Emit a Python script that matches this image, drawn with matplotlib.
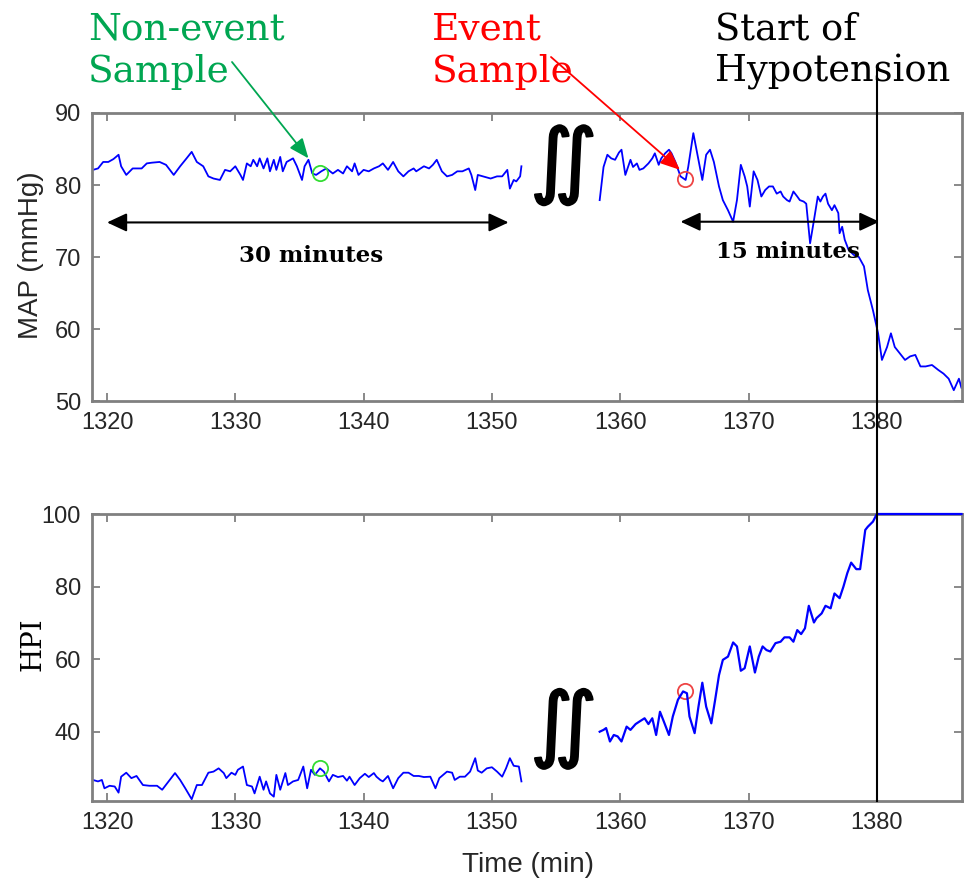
import numpy as np
import matplotlib
matplotlib.use("Agg")
import matplotlib.pyplot as plt
import matplotlib.patheffects as pe
from matplotlib.lines import Line2D

# --- data ------------------------------------------------------------------
# MAP, first segment (non-event window)
t_map1 = [1318.9, 1319.3, 1319.7, 1320.1, 1320.5, 1320.9, 1321.1, 1321.5, 1322.0, 1322.7,
          1323.1, 1323.5, 1324.1, 1324.6, 1325.2, 1325.7, 1326.2, 1326.6, 1327.0, 1327.5,
          1327.9, 1328.3, 1328.8, 1329.2, 1329.6, 1330.0, 1330.4, 1330.6, 1330.9, 1331.2,
          1331.4, 1331.7, 1331.9, 1332.2, 1332.5, 1332.7, 1333.0, 1333.2, 1333.5, 1333.7,
          1334.0, 1334.5, 1334.8, 1335.2, 1335.4, 1335.7, 1336.0, 1336.3, 1336.7, 1337.1,
          1337.6, 1338.0, 1338.4, 1338.7, 1339.1, 1339.3, 1339.6, 1340.0, 1340.4, 1340.8,
          1341.2, 1341.5, 1341.9, 1342.3, 1342.7, 1343.1, 1343.5, 1343.9, 1344.1, 1344.7,
          1345.1, 1345.4, 1345.7, 1346.1, 1346.5, 1346.9, 1347.3, 1347.7, 1348.2, 1348.4,
          1348.7, 1348.9, 1349.3, 1349.9, 1350.4, 1350.8, 1351.2, 1351.4, 1351.7, 1351.9,
          1352.2, 1352.3]
map1 = [82.1, 82.3, 83.2, 83.2, 83.6, 84.2, 82.6, 81.4, 82.3, 82.3,
        83.0, 83.1, 83.2, 82.8, 81.4, 82.6, 83.7, 84.6, 83.2, 82.6,
        81.2, 80.9, 80.7, 82.1, 81.9, 82.6, 81.4, 80.7, 83.0, 82.6,
        83.5, 82.6, 83.7, 82.3, 83.7, 81.9, 83.5, 82.1, 83.9, 81.9,
        83.2, 83.7, 82.6, 80.7, 82.6, 83.5, 81.6, 81.4, 81.9, 82.3,
        81.6, 82.1, 81.6, 82.6, 81.9, 83.0, 81.4, 82.1, 81.9, 82.3,
        82.6, 83.0, 82.1, 83.2, 81.9, 81.2, 81.9, 82.3, 81.9, 82.6,
        82.3, 82.8, 83.5, 81.9, 81.2, 81.4, 81.9, 81.9, 82.3, 81.4,
        79.3, 81.4, 81.2, 80.9, 81.2, 81.2, 82.1, 79.5, 80.7, 80.5,
        81.2, 82.6]

# MAP, second segment (leading into hypotension)
t_map2 = [1358.4, 1358.7, 1359.0, 1359.3, 1359.6, 1359.9, 1360.1, 1360.4, 1360.8, 1361.0,
          1361.3, 1361.5, 1361.8, 1362.2, 1362.5, 1362.7, 1363.0, 1363.2, 1363.5, 1363.8,
          1364.0, 1364.3, 1364.7, 1365.1, 1365.3, 1365.7, 1366.0, 1366.4, 1366.7, 1367.0,
          1367.3, 1367.7, 1368.0, 1368.4, 1368.8, 1369.1, 1369.4, 1369.7, 1369.9, 1370.1,
          1370.4, 1370.7, 1371.0, 1371.3, 1371.6, 1371.9, 1372.2, 1372.5, 1372.7, 1373.0,
          1373.2, 1373.5, 1373.8, 1374.0, 1374.3, 1374.5, 1374.8, 1375.1, 1375.4, 1375.6,
          1375.8, 1376.0, 1376.2, 1376.5, 1376.7, 1377.0, 1377.1, 1377.3, 1377.5, 1377.8,
          1378.2, 1378.6, 1379.0, 1379.3, 1379.7, 1380.1, 1380.4, 1380.8, 1381.1, 1381.4,
          1381.8, 1382.2, 1382.6, 1383.0, 1383.4, 1383.8, 1384.3, 1384.8, 1385.2, 1385.6,
          1386.0, 1386.4, 1386.6, 1386.9]
map2 = [77.9, 82.5, 84.2, 83.7, 83.5, 84.5, 84.9, 81.4, 83.5, 82.5,
        83.0, 82.1, 82.3, 83.0, 83.7, 84.4, 82.8, 83.7, 84.4, 84.9,
        84.4, 83.2, 81.2, 80.7, 82.5, 87.2, 84.4, 80.7, 84.2, 84.9,
        83.2, 79.8, 77.9, 76.5, 74.9, 77.9, 82.8, 81.2, 79.8, 77.0,
        81.9, 80.7, 78.4, 79.3, 79.8, 79.8, 78.8, 79.1, 78.4, 77.9,
        77.7, 79.1, 78.4, 77.9, 77.7, 77.4, 71.9, 75.1, 78.4, 77.7,
        78.4, 78.8, 77.4, 76.5, 77.2, 76.1, 73.3, 74.2, 72.4, 71.0,
        70.3, 70.0, 68.7, 65.4, 62.6, 59.4, 55.7, 57.5, 59.4, 57.5,
        56.6, 55.7, 56.2, 56.4, 54.8, 54.8, 55.0, 54.3, 53.8, 53.1,
        51.5, 53.1, 51.8, 52.5]

# HPI, first segment
t_hpi1 = [1318.9, 1319.3, 1319.6, 1319.8, 1320.2, 1320.6, 1320.9, 1321.1, 1321.5, 1321.9,
          1322.3, 1322.8, 1323.3, 1323.9, 1324.3, 1324.8, 1325.3, 1325.7, 1326.1, 1326.6,
          1327.0, 1327.4, 1327.9, 1328.3, 1328.7, 1329.1, 1329.3, 1329.7, 1330.0, 1330.2,
          1330.6, 1330.9, 1331.3, 1331.5, 1331.9, 1332.2, 1332.4, 1332.7, 1333.0, 1333.2,
          1333.5, 1333.9, 1334.1, 1334.5, 1334.9, 1335.3, 1335.6, 1335.9, 1336.2, 1336.6,
          1336.9, 1337.3, 1337.6, 1338.0, 1338.4, 1338.7, 1338.9, 1339.3, 1339.7, 1340.1,
          1340.4, 1340.8, 1341.0, 1341.3, 1341.5, 1341.9, 1342.3, 1342.7, 1343.1, 1343.5,
          1343.9, 1344.3, 1344.7, 1345.2, 1345.6, 1345.9, 1346.5, 1346.9, 1347.1, 1347.5,
          1347.9, 1348.3, 1348.7, 1348.9, 1349.2, 1349.6, 1350.0, 1350.4, 1350.8, 1351.1,
          1351.4, 1351.7, 1352.1, 1352.3]
hpi1 = [26.7, 26.3, 26.7, 24.4, 25.1, 24.9, 23.2, 27.6, 28.7, 27.2,
        27.8, 25.3, 25.1, 25.1, 24.0, 26.3, 28.6, 26.7, 24.4, 21.4,
        25.3, 25.3, 28.7, 29.0, 29.9, 28.6, 27.2, 28.7, 28.1, 29.5,
        30.4, 25.3, 24.9, 23.0, 27.6, 24.0, 26.3, 23.0, 22.1, 28.1,
        24.0, 28.6, 25.3, 26.3, 26.7, 30.4, 24.4, 29.5, 28.1, 29.9,
        29.0, 26.3, 28.1, 27.5, 27.8, 26.5, 27.6, 25.3, 27.2, 28.4,
        27.5, 28.6, 27.6, 26.7, 26.3, 27.8, 24.4, 27.2, 28.7, 28.7,
        27.8, 27.8, 27.5, 27.6, 24.4, 27.2, 29.0, 28.7, 26.7, 27.6,
        27.6, 29.0, 32.7, 29.3, 28.7, 29.9, 30.2, 29.0, 27.6, 29.9,
        32.7, 30.6, 30.4, 26.3]

# HPI, second segment
t_hpi2 = [1358.4, 1358.7, 1358.9, 1359.2, 1359.5, 1359.8, 1360.1, 1360.5, 1360.8, 1361.2,
          1361.5, 1361.9, 1362.2, 1362.5, 1362.8, 1363.1, 1363.4, 1363.8, 1364.1, 1364.5,
          1364.9, 1365.2, 1365.4, 1365.8, 1366.1, 1366.4, 1366.7, 1367.1, 1367.4, 1367.7,
          1368.0, 1368.4, 1368.8, 1369.1, 1369.4, 1369.7, 1370.1, 1370.5, 1370.8, 1371.1,
          1371.4, 1371.7, 1372.1, 1372.5, 1372.8, 1373.2, 1373.5, 1373.8, 1374.1, 1374.4,
          1374.7, 1375.1, 1375.3, 1375.7, 1376.0, 1376.4, 1376.7, 1377.1, 1377.4, 1377.7,
          1378.0, 1378.4, 1378.7, 1379.1, 1379.3, 1379.7, 1380.0, 1386.6]
hpi2 = [40.0, 40.5, 41.0, 37.3, 39.1, 38.7, 37.3, 41.4, 40.5, 42.1,
        42.8, 43.7, 42.1, 43.7, 39.1, 45.5, 42.8, 39.1, 44.2, 48.8,
        51.1, 50.6, 44.2, 39.6, 46.9, 53.5, 46.9, 42.3, 48.8, 55.6,
        59.8, 60.7, 64.6, 63.5, 56.8, 57.5, 63.5, 56.3, 60.7, 63.5,
        62.5, 62.1, 64.4, 64.8, 66.0, 66.0, 64.8, 68.0, 66.9, 68.5,
        74.7, 70.1, 71.3, 72.6, 74.7, 74.0, 78.1, 76.8, 80.0, 83.7,
        86.6, 84.8, 84.8, 95.6, 96.5, 97.9, 100.0, 100.0]

# sample markers (time, MAP, HPI)
nonevent = (1336.6, 81.6, 29.9)
event = (1365.05, 80.8, 51.2)
hypo_start = 1380

xticks = [1320, 1330, 1340, 1350, 1360, 1370, 1380]
xlim = (1318.83, 1386.64)

# --- figure -----------------------------------------------------------------
W, H = 965, 880
fig = plt.figure(figsize=(W / 100, H / 100), dpi=100)

def fx(px):
    return px / W

def fy(py):
    return 1 - py / H

ax1 = fig.add_axes([fx(92), fy(401), fx(870), 288 / H])
ax2 = fig.add_axes([fx(92), fy(801), fx(870), 287 / H])

blue = '#0000ff'
grey = '#808080'
green = '#00a651'
serif = 'DejaVu Serif'
sans = 'Liberation Sans'

ax1.plot(t_map1, map1, color=blue, lw=1.3)
ax1.plot(t_map2, map2, color=blue, lw=1.3)
ax2.plot(t_hpi1, hpi1, color=blue, lw=1.3)
# saturated HPI sits on the top spine, so draw it above the frame
ax2.plot(t_hpi2, hpi2, color=blue, lw=1.6, zorder=3, clip_on=False)

ax1.plot(nonevent[0], nonevent[1], 'o', mfc='none', mec='#33dd33', ms=11, mew=1.3)
ax1.plot(event[0], event[1], 'o', mfc='none', mec='#ee4444', ms=11, mew=1.3)
ax2.plot(nonevent[0], nonevent[2], 'o', mfc='none', mec='#33dd33', ms=11, mew=1.3)
ax2.plot(event[0], event[2], 'o', mfc='none', mec='#ee4444', ms=11, mew=1.3)

ax1.set_ylim(50, 90)
ax1.set_yticks([50, 60, 70, 80, 90])
ax2.set_ylim(20.9, 100)
ax2.set_yticks([40, 60, 80, 100])

for ax in (ax1, ax2):
    ax.set_xlim(*xlim)
    ax.set_xticks(xticks)
    for s in ax.spines.values():
        s.set_color(grey)
        s.set_linewidth(2)
    ax.tick_params(direction='in', length=6, width=1.3, color=grey,
                   top=True, right=True, labelsize=17, labelcolor='#262626', pad=8)
    for lab in ax.get_xticklabels() + ax.get_yticklabels():
        lab.set_family(sans)

ax1.set_ylabel('MAP (mmHg)', fontsize=20, family=sans, color='#262626')
ax1.yaxis.set_label_coords((44 - 92) / 870, 0.507)
ax2.set_ylabel('HPI', fontsize=20, family=serif, color='black')
ax2.yaxis.set_label_coords((46 - 92) / 870, 0.547)
ax2.set_xlabel('Time (min)', fontsize=20, family=sans, color='#262626')
ax2.xaxis.set_label_coords(0.501, (801 - 852) / 287)

# break marks
thick = [pe.withStroke(linewidth=1.5, foreground='black')]
for ax, yv in ((ax1, 82.6), (ax2, 40.5)):
    ax.text(1355.5, yv, r'$\int\!\!\int$', fontsize=42, color='black',
            ha='center', va='center', path_effects=thick)

# duration arrows
arr = dict(arrowstyle='<|-|>,head_length=0.6,head_width=0.28', color='black',
           lw=1.5, mutation_scale=20, shrinkA=0, shrinkB=0)
ax1.annotate('', xy=(1320.0, 74.8), xytext=(1351.3, 74.8), arrowprops=arr)
ax1.annotate('', xy=(1364.7, 74.9), xytext=(1380.2, 74.9), arrowprops=arr)
ax1.text(1335.9, 70.2, '30 minutes', fontsize=16.5, fontweight='bold', family=serif,
         ha='center', va='center')
ax1.text(1373.1, 70.7, '15 minutes', fontsize=16.5, fontweight='bold', family=serif,
         ha='center', va='center')

# labels at the top
fig.text(fx(88), fy(12), 'Non-event\nSample', color=green, fontsize=27, family=serif,
         va='top', ha='left', linespacing=1.2)
fig.text(fx(432), fy(12), 'Event\nSample', color='#ff0000', fontsize=27, family=serif,
         va='top', ha='left', linespacing=1.2)
fig.text(fx(715), fy(12), 'Start of\nHypotension', color='black', fontsize=26.5, family=serif,
         va='top', ha='left', linespacing=1.2)

ax1.annotate('', xy=(1335.7, 83.7), xytext=(232, H - 62), textcoords='figure pixels',
             arrowprops=dict(arrowstyle='-|>,head_length=0.6,head_width=0.25', color=green,
                             lw=1.3, mutation_scale=20, shrinkA=0, shrinkB=0))
ax1.annotate('', xy=(1364.66, 82.1), xytext=(551, H - 57), textcoords='figure pixels',
             arrowprops=dict(arrowstyle='-|>,head_length=0.6,head_width=0.25', color='#ff0000',
                             lw=1.3, mutation_scale=20, shrinkA=0, shrinkB=0))

# vertical line at the start of hypotension, across both panels
xl = fx(92) + (hypo_start - xlim[0]) / (xlim[1] - xlim[0]) * fx(870)
fig.add_artist(Line2D([xl, xl], [fy(66), fy(801)], color='black', lw=1.5, zorder=5))

fig.savefig('out.png', dpi=100)
